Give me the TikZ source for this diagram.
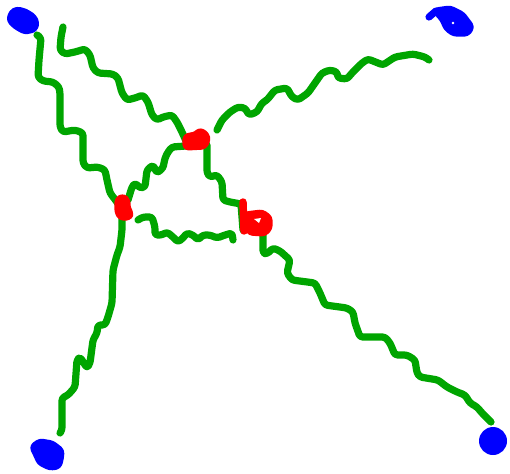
\documentclass[tikz,border=0pt]{standalone}
\definecolor{gr}{RGB}{0,165,0}
\definecolor{rd}{RGB}{255,0,0}
\definecolor{bl}{RGB}{0,0,255}
\tikzset{
  wire/.style={draw=gr, line width=5.4pt, line cap=round, line join=round, rounded corners=2pt},
  redblob/.style={draw=rd, fill=rd, line width=5.4pt, line cap=round, line join=round, rounded corners=2pt},
  redstroke/.style={draw=rd, line width=5.6pt, line cap=round, line join=round, rounded corners=2pt},
  blueblob/.style={draw=bl, fill=bl, line width=5.4pt, line cap=round, line join=round, rounded corners=2pt}
}
\begin{document}
\begin{tikzpicture}[x=0.75pt,y=-0.75pt]
\useasboundingbox (0,0) rectangle (510,474);
% green wires
\draw[wire] (37,35) -- (41,38) -- (39,60) -- (38,77) -- (43,81) -- (53,82) -- (59,87) -- (60,93) -- (60,127) -- (63,132) -- (75,130) -- (83,133) -- (83,163) -- (87,168) -- (98,167) -- (105,170) -- (107,180) -- (110,193) -- (117,202) -- (122,210) -- (122,230) -- (120,247) -- (117,255) -- (113,270) -- (112,303) -- (108,317) -- (105,325) -- (98,325) -- (97,333) -- (93,340) -- (90,363) -- (87,368) -- (80,357) -- (77,360) -- (75,387) -- (68,395) -- (62,398) -- (62,430) -- (60,433);
\draw[wire] (63,27) -- (61,37) -- (60,50) -- (65,54) -- (75,52) -- (85,49) -- (90,55) -- (93,68) -- (98,73) -- (113,74) -- (118,78) -- (122,93) -- (127,100) -- (135,98) -- (143,95) -- (148,102) -- (152,115) -- (157,120) -- (163,117) -- (172,115) -- (177,122) -- (182,132) -- (186,141);
\draw[wire] (186,146) -- (172,147) -- (168,152) -- (165,158) -- (163,168) -- (157,173) -- (153,165) -- (147,170) -- (145,187) -- (140,188) -- (135,183) -- (132,187) -- (128,200);
\draw[wire] (217,130) -- (222,120) -- (230,112) -- (238,107) -- (245,108) -- (249,115) -- (257,112) -- (262,103) -- (267,100) -- (275,90) -- (287,88) -- (292,97) -- (298,100) -- (308,93) -- (315,83) -- (322,73) -- (330,70) -- (337,72) -- (338,78) -- (347,79) -- (352,73) -- (362,63) -- (368,59) -- (378,63) -- (383,65) -- (395,57) -- (407,55) -- (413,54) -- (425,57) -- (429,60);
\draw[wire] (207,145) -- (207,173) -- (210,177) -- (217,175) -- (222,182) -- (223,200) -- (230,202) -- (241,204) -- (243,230);
\draw[wire] (263,230) -- (263,253) -- (267,254) -- (273,248) -- (280,251) -- (290,260) -- (287,273) -- (292,280) -- (315,283) -- (320,293) -- (325,305) -- (347,308) -- (353,312) -- (355,323) -- (360,337) -- (385,337) -- (390,343) -- (395,355) -- (407,355) -- (415,360) -- (417,373) -- (420,377) -- (438,380) -- (447,387) -- (457,392) -- (465,395) -- (470,403) -- (477,407) -- (482,413) -- (491,422);
\draw[wire] (138,220) -- (143,217) -- (152,217) -- (155,227) -- (155,235) -- (162,235) -- (167,232) -- (173,237) -- (178,242) -- (183,238) -- (187,233) -- (193,235) -- (198,240) -- (203,235) -- (210,235) -- (217,238) -- (225,235) -- (232,233) -- (233,240);
% red junctions
\filldraw[redblob] (186,137) -- (196,135) -- (200,131) -- (206,135) -- (207,140) -- (204,146) -- (186,147) -- cycle;
\filldraw[redblob] (118,200) -- (123,197) -- (127,201) -- (127,208) -- (130,213) -- (129,217) -- (121,217) -- (118,212) -- cycle;
\draw[redstroke] (243,202) -- (244,231);
\filldraw[redblob] (246,215) -- (262,213) -- (269,218) -- (269,228) -- (264,233) -- (250,232) -- (246,224) -- cycle;
\fill[white] (254,219) -- (261,218) -- (259,223) -- cycle;
% blue blobs
\filldraw[blueblob] (12,13) -- (17,10) -- (25,12) -- (33,17) -- (36,23) -- (34,29) -- (25,31) -- (16,26) -- (10,20) -- cycle;
\draw[draw=bl, line width=5.4pt, line cap=round] (429,17) -- (436,11);
\filldraw[blueblob] (436,11) -- (450,9) -- (462,15) -- (471,27) -- (467,33) -- (454,33) -- (447,28) -- (443,19) -- cycle;
\fill[white] (453,23) circle (1.3);
\filldraw[blueblob] (33,447) -- (40,442) -- (52,444) -- (61,451) -- (60,460) -- (58,466) -- (50,467) -- (40,462) -- (36,453) -- cycle;
\fill[bl] (493,441) circle (14);
\end{tikzpicture}
\end{document}
